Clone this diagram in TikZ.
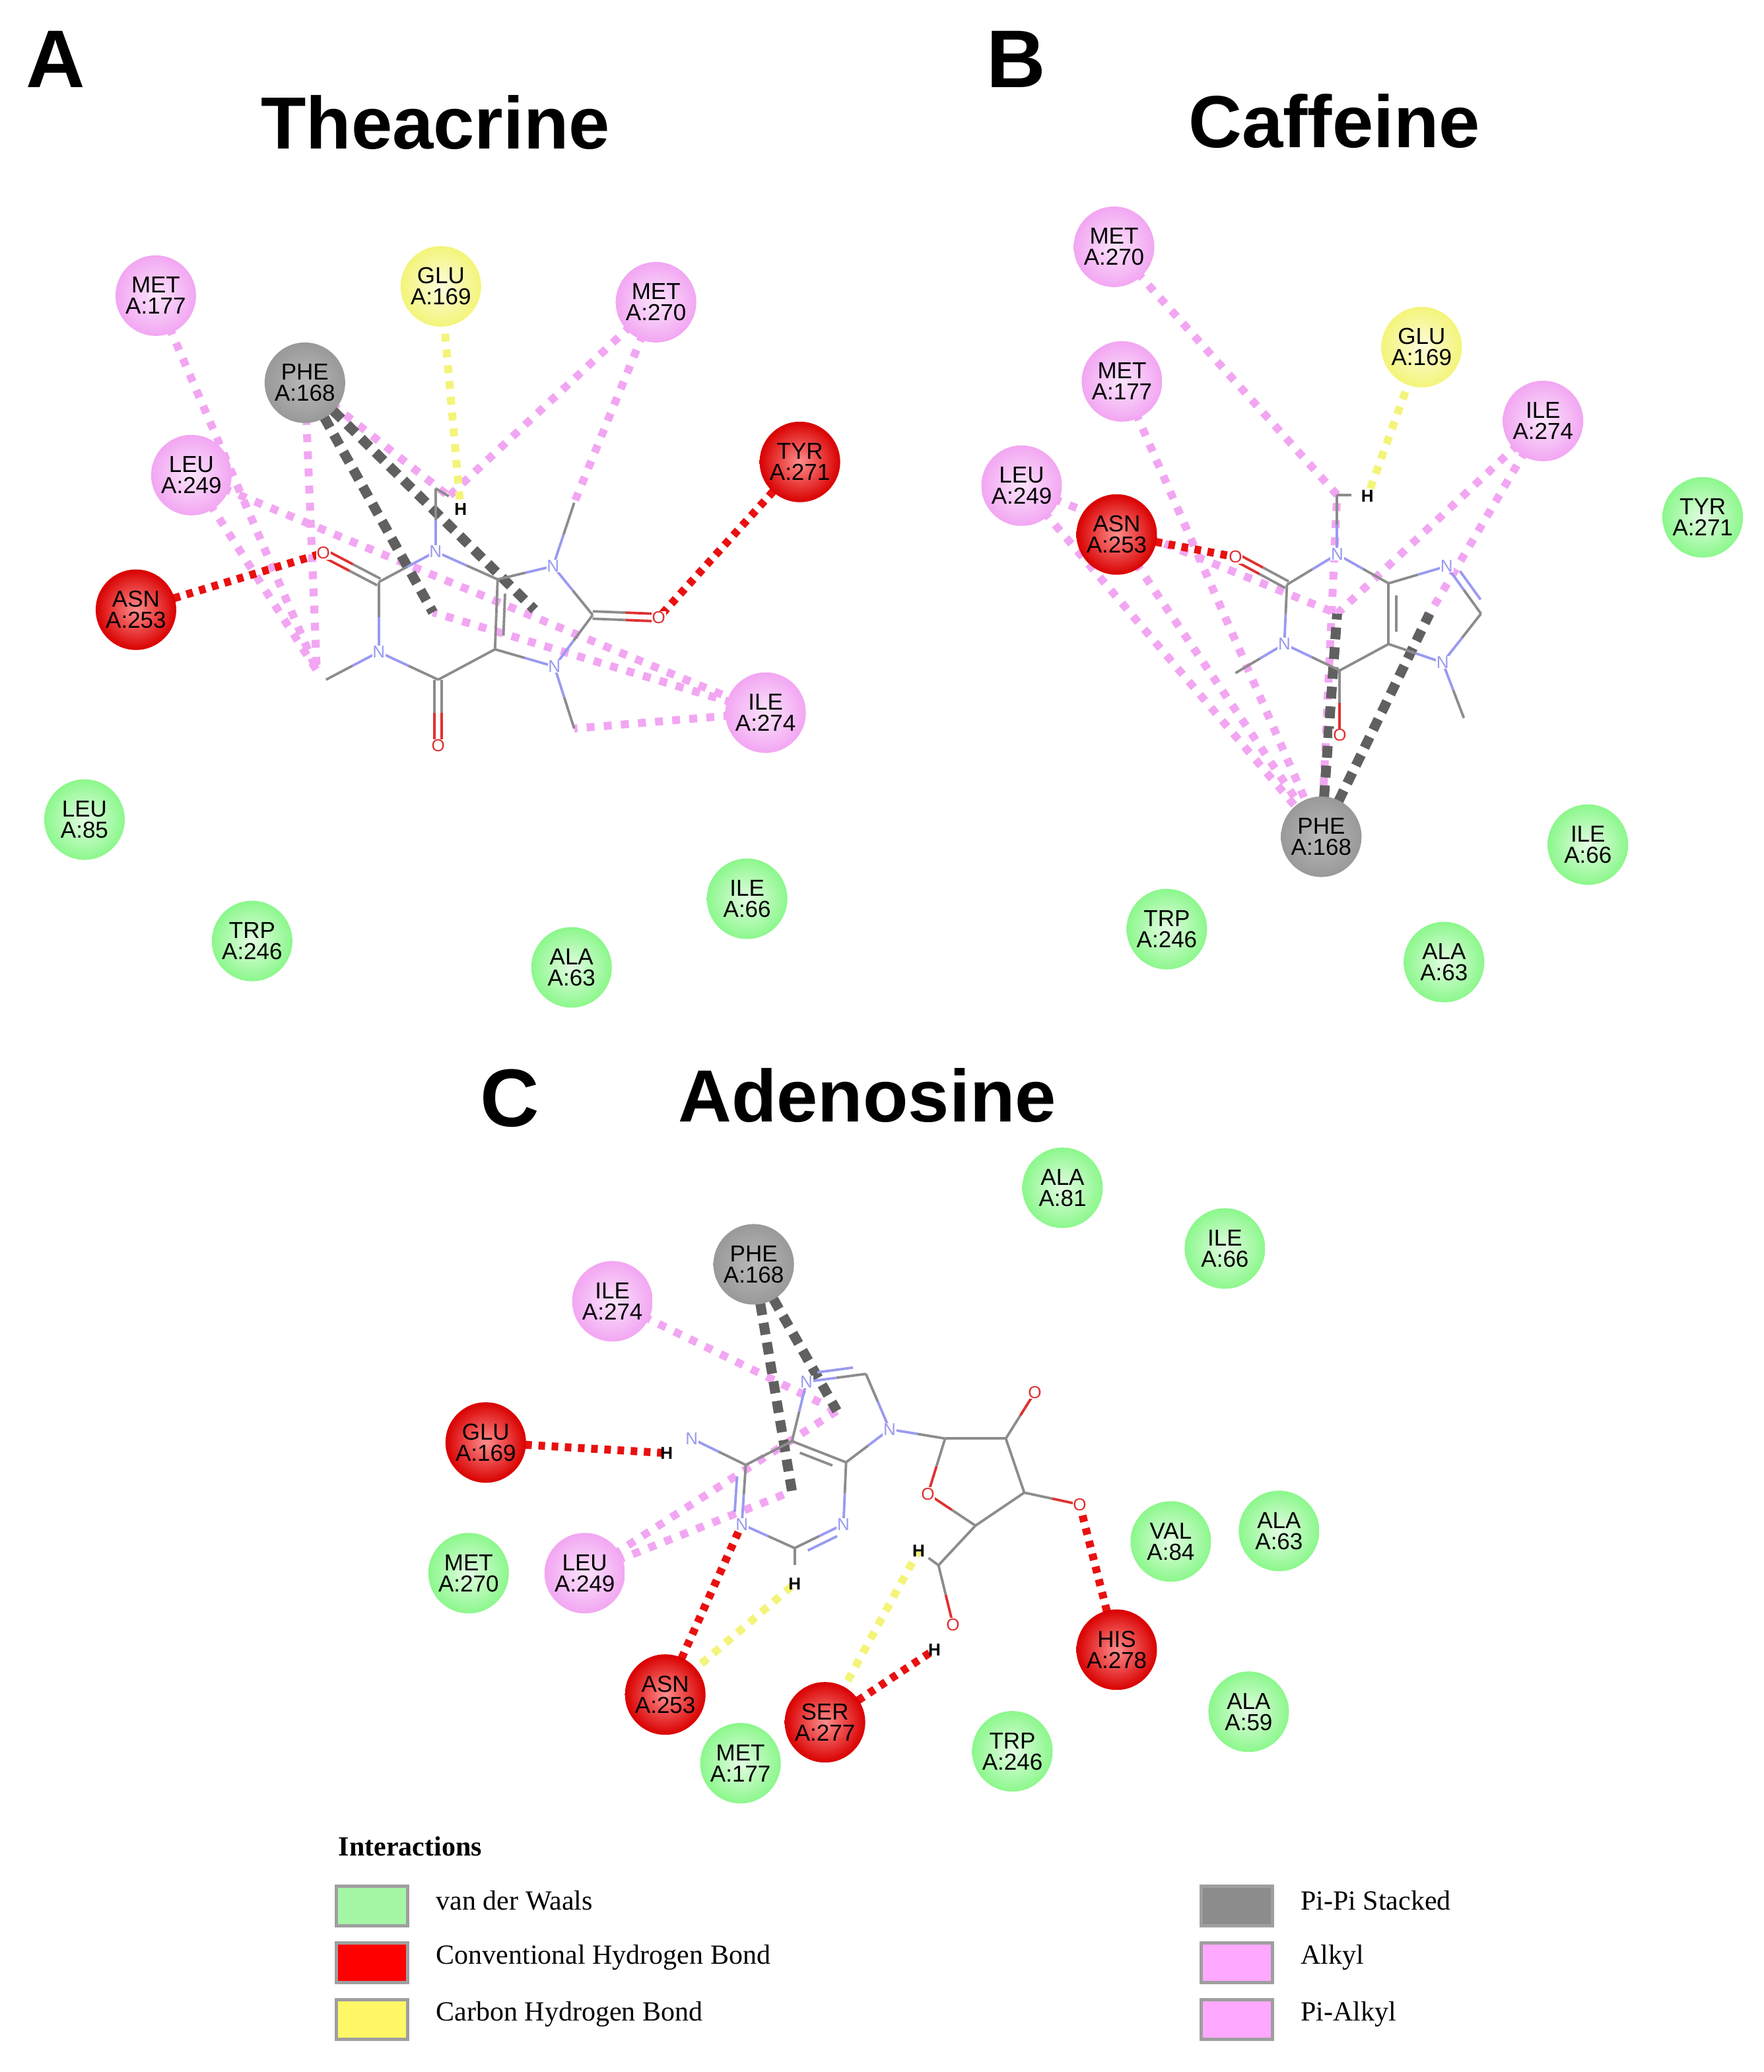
\documentclass[tikz,border=0pt]{standalone}
\usepackage{fontspec}
\setmainfont{Liberation Sans}
\newfontfamily\lser{Liberation Serif}
\usetikzlibrary{calc}
\pgfdeclarelayer{bg}\pgfdeclarelayer{mol}
\pgfsetlayers{bg,mol,main}
\definecolor{cg}{HTML}{8C8C8C}
\definecolor{cn}{HTML}{9A9AF0}
\definecolor{co}{HTML}{E03030}
\definecolor{pk}{HTML}{F2A6F2}
\definecolor{rd}{HTML}{E81010}
\definecolor{yl}{HTML}{F4F47A}
\definecolor{gy}{HTML}{606060}
\definecolor{lgreen}{HTML}{A4F6A4}
\definecolor{lpink}{HTML}{FFA8FF}
\newcommand\bnd[4]{\draw[bond,#3] (#1) -- ($(#1)!0.5!(#2)$); \draw[bond,#4] ($(#1)!0.5!(#2)$) -- (#2);}
\newcommand\dbnd[4]{%
 \draw[bond,#3] ($(#1)!2.8pt!90:(#2)$) -- ($($(#1)!0.5!(#2)$)!2.8pt!90:(#2)$);
 \draw[bond,#4] ($($(#1)!0.5!(#2)$)!2.8pt!90:(#2)$) -- ($(#2)!2.8pt!-90:(#1)$);
 \draw[bond,#3] ($(#1)!2.8pt!-90:(#2)$) -- ($($(#1)!0.5!(#2)$)!2.8pt!-90:(#2)$);
 \draw[bond,#4] ($($(#1)!0.5!(#2)$)!2.8pt!-90:(#2)$) -- ($(#2)!2.8pt!90:(#1)$);}
\newcommand\inl[4]{\draw[bond,#3] ($($(#1)!0.2!(#2)$)!6pt!#4:(#2)$) -- ($($(#1)!0.8!(#2)$)!6pt!-#4:(#1)$);}
\begin{document}
\begin{tikzpicture}[x=1pt,y=-1pt,
 bond/.style={line width=1.9pt},
 atm/.style={fill=white,inner sep=0.4pt,font=\fontsize{13}{13}\selectfont},
 hl/.style={inner sep=0.5pt,font=\bfseries\fontsize{13}{13}\selectfont},
 res/.style={circle,minimum size=61pt,inner sep=0pt,align=center,font=\fontsize{17.5}{16}\selectfont},
 vdw/.style={res,inner color=white!70!lgreen,outer color=lgreen!85!green},
 alk/.style={res,inner color=white!70!pk,outer color=pk},
 hb/.style={res,inner color=red!45,outer color=red!85!black},
 chb/.style={res,inner color=white!75!yl,outer color=yl},
 pipi/.style={res,inner color=gray!55,outer color=gray!120!black},
 pkl/.style={draw=pk,line width=6pt,dash pattern=on 6pt off 7pt},
 rdl/.style={draw=rd,line width=6pt,dash pattern=on 5pt off 5pt},
 yll/.style={draw=yl,line width=6pt,dash pattern=on 6pt off 6pt},
 gyl/.style={draw=gy,line width=7.5pt,dash pattern=on 9pt off 6pt},
 ttl/.style={font=\bfseries\fontsize{56}{56}\selectfont},
 let/.style={font=\bfseries\fontsize{62}{62}\selectfont},
 lbox/.style={draw=gray!75,line width=2.5pt,minimum width=54pt,minimum height=30pt,inner sep=0pt},
 ltx/.style={anchor=west,font=\lser\fontsize{21}{21}\selectfont}]
\useasboundingbox (0,0) rectangle (1336,1570);
% ---------- titles
\node[let] (LA) at (42,45) {A};
\node[ttl] (TA) at (330,93) {Theacrine};
\node[let] (LB) at (770,45) {B};
\node[ttl] (TB) at (1011,92) {Caffeine};
\node[let] (LC) at (386,832) {C};
\node[ttl] (TC) at (657,830) {Adenosine};
% ---------- coordinates A
\coordinate (aN1) at (330,418); \coordinate (aC2) at (287,441); \coordinate (aO2) at (245,419);
\coordinate (aN3) at (287,494); \coordinate (aM3) at (247,515); \coordinate (aC4) at (332,515);
\coordinate (aO4) at (332,565); \coordinate (aC5) at (375,492); \coordinate (aC6) at (377,439);
\coordinate (aN7) at (419,429); \coordinate (aM7) at (435,381); \coordinate (aC8) at (449,466);
\coordinate (aO8) at (499,468); \coordinate (aN9) at (420,505); \coordinate (aM9) at (435,552);
\coordinate (aM1) at (330,370); \coordinate (aHk) at (340,376); \coordinate (aH) at (349,386);
\coordinate (aR6) at (328,464); \coordinate (aR5) at (405,462); \coordinate (aX) at (240,508);
% ---------- coordinates B
\coordinate (bN1) at (1013,420); \coordinate (bC2) at (975,443); \coordinate (bO2) at (936,422);
\coordinate (bN3) at (973,488); \coordinate (bM3) at (936,510); \coordinate (bC4) at (1015,508);
\coordinate (bO4) at (1015,557); \coordinate (bC5) at (1052,488); \coordinate (bC6) at (1052,442);
\coordinate (bN7) at (1096,429); \coordinate (bC8) at (1122,465); \coordinate (bN9) at (1093,502);
\coordinate (bM9) at (1109,544); \coordinate (bM1) at (1013,375); \coordinate (bHk) at (1024,375);
\coordinate (bH) at (1036,376); \coordinate (bR6) at (1013,465); \coordinate (bR5) at (1083,465);
% ---------- coordinates C
\coordinate (cN7) at (611,1047); \coordinate (cC8) at (656,1041); \coordinate (cN9) at (674,1083);
\coordinate (cC4) at (641,1108); \coordinate (cN3) at (639,1155); \coordinate (cC2) at (602,1173);
\coordinate (cH2b) at (602,1186); \coordinate (cH2) at (602,1200); \coordinate (cN1) at (562,1155);
\coordinate (cC6) at (565,1110); \coordinate (cC5) at (600,1092); \coordinate (cN6) at (524,1090);
\coordinate (cH6) at (505,1101);
\coordinate (cC1) at (716,1090); \coordinate (cC2p) at (762,1090); \coordinate (cO2p) at (784,1055);
\coordinate (cC3p) at (776,1131); \coordinate (cO3p) at (818,1140); \coordinate (cC4p) at (739,1156);
\coordinate (cO4p) at (703,1132); \coordinate (cC5p) at (711,1186); \coordinate (cH5) at (696,1175);
\coordinate (cO5p) at (722,1231); \coordinate (cHO) at (708,1250);
\coordinate (cR6) at (600,1130); \coordinate (cR5) at (634,1069);
% ---------- residues A
\node[alk] (a177) at (118,224) {MET\\A:177};
\node[chb] (a169) at (334,217) {GLU\\A:169};
\node[alk] (a270) at (497,229) {MET\\A:270};
\node[pipi] (a168) at (231,290) {PHE\\A:168};
\node[alk] (a249) at (145,360) {LEU\\A:249};
\node[hb] (a271) at (606,350) {TYR\\A:271};
\node[hb] (a253) at (103,462) {ASN\\A:253};
\node[alk] (a274) at (580,540) {ILE\\A:274};
\node[vdw] (a85) at (64,621) {LEU\\A:85};
\node[vdw] (a246) at (191,713) {TRP\\A:246};
\node[vdw] (a63) at (433,733) {ALA\\A:63};
\node[vdw] (a66) at (566,681) {ILE\\A:66};
% ---------- residues B
\node[alk] (b270) at (844,187) {MET\\A:270};
\node[chb] (b169) at (1077,263) {GLU\\A:169};
\node[alk] (b177) at (850,289) {MET\\A:177};
\node[alk] (b274) at (1169,319) {ILE\\A:274};
\node[alk] (b249) at (774,368) {LEU\\A:249};
\node[hb] (b253) at (846,405) {ASN\\A:253};
\node[vdw] (b271) at (1290,392) {TYR\\A:271};
\node[pipi] (b168) at (1001,634) {PHE\\A:168};
\node[vdw] (b66) at (1203,640) {ILE\\A:66};
\node[vdw] (b246) at (884,704) {TRP\\A:246};
\node[vdw] (b63) at (1094,729) {ALA\\A:63};
% ---------- residues C
\node[vdw] (c81) at (805,900) {ALA\\A:81};
\node[vdw] (c66) at (928,946) {ILE\\A:66};
\node[pipi] (c168) at (571,958) {PHE\\A:168};
\node[alk] (c274) at (464,986) {ILE\\A:274};
\node[hb] (c169) at (368,1093) {GLU\\A:169};
\node[vdw] (c270) at (355,1192) {MET\\A:270};
\node[alk] (c249) at (443,1192) {LEU\\A:249};
\node[vdw] (c84) at (887,1168) {VAL\\A:84};
\node[vdw] (c63) at (969,1160) {ALA\\A:63};
\node[hb] (c278) at (846,1250) {HIS\\A:278};
\node[hb] (c253) at (504,1284) {ASN\\A:253};
\node[hb] (c277) at (625,1305) {SER\\A:277};
\node[vdw] (c59) at (946,1297) {ALA\\A:59};
\node[vdw] (c246) at (767,1327) {TRP\\A:246};
\node[vdw] (c177) at (561,1336) {MET\\A:177};
% ---------- interactions (background)
\begin{pgfonlayer}{bg}
% A
\draw[pkl] (a177.center) -- (aX);
\draw[pkl] (a249.center) -- (aX);
\draw[pkl] (a168.center) -- (aX);
\draw[pkl] (a168.center) -- (aHk);
\draw[pkl] (a249.center) -- (a274.center);
\draw[pkl] (a274.center) -- (aR6);
\draw[pkl] (a274.center) -- (aM9);
\draw[pkl] (a270.center) -- (aHk);
\draw[pkl] (a270.center) -- (aM7);
\draw[gyl] (a168.center) -- (aR6);
\draw[gyl] (a168.center) -- (aR5);
\draw[yll] (a169.center) -- (aH);
\draw[rdl] (a271.center) -- (aO8);
\draw[rdl] (a253.center) -- (aO2);
% B
\draw[pkl] (b270.center) -- (bM1);
\draw[pkl] (b177.center) -- (b168.center);
\draw[pkl] (b249.center) -- (b168.center);
\draw[pkl] (b253.center) -- (b168.center);
\draw[pkl] (b249.center) -- (bR6);
\draw[pkl] (b274.center) -- (bR6);
\draw[pkl] (b274.center) -- (bR5);
\draw[pkl] (b168.center) -- (bM1);
\draw[gyl] (b168.center) -- (bR6);
\draw[gyl] (b168.center) -- (bR5);
\draw[yll] (b169.center) -- (bH);
\draw[rdl] (b253.center) -- (bO2);
% C
\draw[pkl] (c274.center) -- (cR5);
\draw[pkl] (c249.center) -- (cR6);
\draw[pkl] (c249.center) -- (cR5);
\draw[gyl] (c168.center) -- (cR6);
\draw[gyl] (c168.center) -- (cR5);
\draw[rdl] (c169.center) -- (cH6);
\draw[rdl] (c253.center) -- (cN1);
\draw[yll] (c253.center) -- (cH2);
\draw[yll] (c277.center) -- (cH5);
\draw[rdl] (c277.center) -- (cHO);
\draw[rdl] (c278.center) -- (cO3p);
\end{pgfonlayer}
% ---------- molecules
\begin{pgfonlayer}{mol}
% Theacrine
\bnd{aN1}{aC2}{cn}{cg} \dbnd{aC2}{aO2}{cg}{co} \bnd{aC2}{aN3}{cg}{cn}
\bnd{aN3}{aM3}{cn}{cg} \bnd{aN3}{aC4}{cn}{cg} \dbnd{aC4}{aO4}{cg}{co}
\bnd{aC4}{aC5}{cg}{cg} \bnd{aC5}{aC6}{cg}{cg} \inl{aC5}{aC6}{cg}{-90}
\bnd{aC6}{aN1}{cg}{cn} \bnd{aC6}{aN7}{cg}{cn} \bnd{aN7}{aM7}{cn}{cg}
\bnd{aN7}{aC8}{cn}{cg} \dbnd{aC8}{aO8}{cg}{co} \bnd{aC8}{aN9}{cg}{cn}
\bnd{aN9}{aC5}{cn}{cg} \bnd{aN9}{aM9}{cn}{cg} \bnd{aN1}{aM1}{cn}{cg}
\draw[bond,cg] (aM1) -- (aHk);
\foreach \p in {aN1,aN3,aN7,aN9} \node[atm,text=cn] at (\p) {N};
\foreach \p in {aO2,aO4,aO8} \node[atm,text=co] at (\p) {O};
\node[hl] at (aH) {H};
% Caffeine
\bnd{bN1}{bC2}{cn}{cg} \dbnd{bC2}{bO2}{cg}{co} \bnd{bC2}{bN3}{cg}{cn}
\bnd{bN3}{bM3}{cn}{cg} \bnd{bN3}{bC4}{cn}{cg} \bnd{bC4}{bO4}{cg}{co}
\bnd{bC4}{bC5}{cg}{cg} \bnd{bC5}{bC6}{cg}{cg} \inl{bC5}{bC6}{cg}{-90}
\bnd{bC6}{bN1}{cg}{cn} \bnd{bC6}{bN7}{cg}{cn} \bnd{bN7}{bC8}{cn}{cg}
\inl{bN7}{bC8}{cn}{90} \bnd{bC8}{bN9}{cg}{cn} \bnd{bN9}{bC5}{cn}{cg}
\bnd{bN9}{bM9}{cn}{cg} \bnd{bN1}{bM1}{cn}{cg}
\draw[bond,cg] (bM1) -- (bHk);
\foreach \p in {bN1,bN3,bN7,bN9} \node[atm,text=cn] at (\p) {N};
\foreach \p in {bO2,bO4} \node[atm,text=co] at (\p) {O};
\node[hl] at (bH) {H};
% Adenosine
\bnd{cC5}{cN7}{cg}{cn} \bnd{cN7}{cC8}{cn}{cg} \inl{cN7}{cC8}{cn}{90}
\bnd{cC8}{cN9}{cg}{cn} \bnd{cN9}{cC4}{cn}{cg} \bnd{cC4}{cC5}{cg}{cg}
\inl{cC4}{cC5}{cg}{90} \bnd{cC4}{cN3}{cg}{cn} \bnd{cN3}{cC2}{cn}{cg}
\inl{cN3}{cC2}{cn}{90} \bnd{cC2}{cN1}{cg}{cn} \bnd{cN1}{cC6}{cn}{cg}
\inl{cN1}{cC6}{cn}{90} \bnd{cC6}{cC5}{cg}{cg} \bnd{cC6}{cN6}{cg}{cn}
\draw[bond,cg] (cC2) -- (cH2b);
\bnd{cN9}{cC1}{cn}{cg} \bnd{cC1}{cC2p}{cg}{cg} \bnd{cC2p}{cO2p}{cg}{co}
\bnd{cC2p}{cC3p}{cg}{cg} \bnd{cC3p}{cO3p}{cg}{co} \bnd{cC3p}{cC4p}{cg}{cg}
\bnd{cC4p}{cO4p}{cg}{co} \bnd{cO4p}{cC1}{co}{cg} \bnd{cC4p}{cC5p}{cg}{cg}
\bnd{cC5p}{cO5p}{cg}{co} \draw[bond,cg] (cC5p) -- ($(cC5p)!0.5!(cH5)$);
\foreach \p in {cN7,cN9,cN3,cN1,cN6} \node[atm,text=cn] at (\p) {N};
\foreach \p in {cO2p,cO3p,cO4p,cO5p} \node[atm,text=co] at (\p) {O};
\foreach \p in {cH2,cH6,cH5,cHO} \node[hl] at (\p) {H};
\end{pgfonlayer}
% ---------- legend
\node[anchor=west,font=\lser\bfseries\fontsize{21}{21}\selectfont] (lg) at (253,1399) {Interactions};
\node[lbox,fill=lgreen] (k1) at (282,1444) {}; \node[ltx] (t1) at (327,1440) {van der Waals};
\node[lbox,fill=red] (k2) at (282,1487) {}; \node[ltx] (t2) at (327,1483) {Conventional Hydrogen Bond};
\node[lbox,fill=yellow!60] (k3) at (282,1530) {}; \node[ltx] (t3) at (327,1526) {Carbon Hydrogen Bond};
\node[lbox,fill=gray!110!black] (k4) at (937,1444) {}; \node[ltx] (t4) at (982,1440) {Pi-Pi Stacked};
\node[lbox,fill=lpink] (k5) at (937,1487) {}; \node[ltx] (t5) at (982,1483) {Alkyl};
\node[lbox,fill=lpink] (k6) at (937,1530) {}; \node[ltx] (t6) at (982,1526) {Pi-Alkyl};
\end{tikzpicture}
\end{document}
